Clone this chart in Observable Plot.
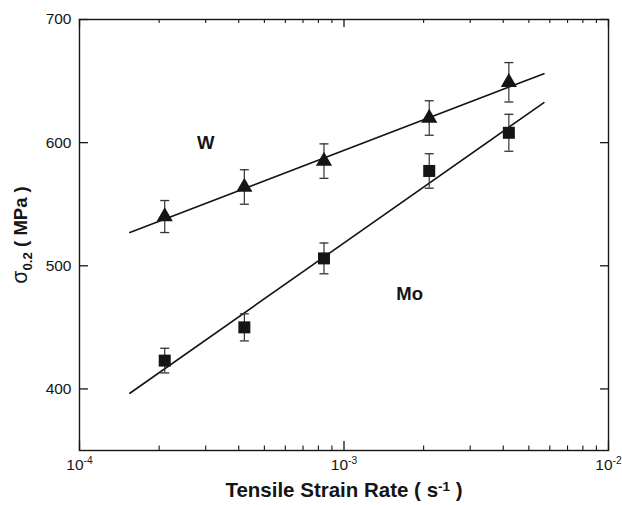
<!DOCTYPE html>
<html>
<head>
<meta charset="utf-8">
<script src="https://cdn.jsdelivr.net/npm/d3@7"></script>
<script src="https://cdn.jsdelivr.net/npm/@observablehq/plot@0.6"></script>
<style>
  html, body { margin: 0; padding: 0; background: #fff; }
  #chart { width: 622px; height: 505px; }
</style>
</head>
<body>
<div id="chart"></div>
<script>
// ---- data ----
const strainRate = [2.1e-4, 4.2e-4, 8.4e-4, 2.1e-3, 4.2e-3];
const wStress   = [540, 564, 585, 620, 649];
const wErr      = [13, 14, 14, 14, 16];
const moStress  = [423, 450, 506, 577, 608];
const moErr     = [10, 11, 12.5, 14, 15];
const wFitX  = [1.55e-4, 5.7e-3];
const wFitY  = [527, 656];
const moFitX = [1.55e-4, 5.7e-3];
const moFitY = [396.5, 632.5];
const seriesLabels = ["W", "Mo"];
const seriesLabelX = [3.0e-4, 1.77e-3];
const seriesLabelY = [600, 477];
const xMajor = [1e-4, 1e-3, 1e-2];
const xMajorLabels = ["10^{-4}", "10^{-3}", "10^{-2}"];
const xMinor = [2e-4,3e-4,4e-4,5e-4,6e-4,7e-4,8e-4,9e-4,2e-3,3e-3,4e-3,5e-3,6e-3,7e-3,8e-3,9e-3];
const yTicks = [400, 500, 600, 700];
const xTitle = "Tensile Strain Rate ( s^{-1} )";
const yTitle = "σ_{0.2} ( MPa )";

// ---- build tables ----
const wData  = strainRate.map((x, i) => ({x, y: wStress[i], lo: wStress[i] - wErr[i], hi: wStress[i] + wErr[i]}));
const moData = strainRate.map((x, i) => ({x, y: moStress[i], lo: moStress[i] - moErr[i], hi: moStress[i] + moErr[i]}));
const allData = wData.concat(moData);
const wFit  = wFitX.map((x, i) => ({x, y: wFitY[i]}));
const moFit = moFitX.map((x, i) => ({x, y: moFitY[i]}));
const labels = seriesLabels.map((t, i) => ({t, x: seriesLabelX[i], y: seriesLabelY[i]}));

const W = 622, H = 505, mL = 79, mR = 14, mT = 19, mB = 55;
const frameW = W - mL - mR, frameH = H - mT - mB;
const ink = "#151515";
const capSymbol = {draw(ctx) { ctx.moveTo(-4.5, 0); ctx.lineTo(4.5, 0); }};

const chart = Plot.plot({
  width: W, height: H,
  marginLeft: mL, marginRight: mR, marginTop: mT, marginBottom: mB,
  style: {fontFamily: "'Liberation Sans', Arial, sans-serif", background: "#fff", color: ink},
  x: {type: "log", domain: [1e-4, 1e-2], axis: null},
  y: {domain: [350, 700], axis: null},
  marks: [
    // ticks (inward)
    Plot.ruleX(xMinor, {x: d => d, insetTop: frameH - 4.5, stroke: ink, strokeWidth: 1.1}),
    Plot.ruleX(xMinor, {x: d => d, insetBottom: frameH - 4, stroke: ink, strokeWidth: 1.1}),
    Plot.ruleX(xMajor, {x: d => d, insetTop: frameH - 9, stroke: ink, strokeWidth: 1.3}),
    Plot.ruleX(xMajor, {x: d => d, insetBottom: frameH - 8, stroke: ink, strokeWidth: 1.3}),
    Plot.ruleY(yTicks, {y: d => d, insetRight: frameW - 9, stroke: ink, strokeWidth: 1.3}),
    Plot.ruleY(yTicks, {y: d => d, insetLeft: frameW - 8, stroke: ink, strokeWidth: 1.3}),
    Plot.frame({stroke: ink, strokeWidth: 1.4}),
    // tick labels
    Plot.text(yTicks, {y: d => d, frameAnchor: "left", dx: -8, textAnchor: "end", text: d => String(d), fontSize: 15.5, fill: ink}),
    Plot.text(xMajor, {x: d => d, frameAnchor: "bottom", dy: 19, text: (d, i) => xMajorLabels[i], fontSize: 15.5, fill: ink}),
    // axis titles
    Plot.text([xTitle], {frameAnchor: "bottom", dy: 46, textAnchor: "middle", text: d => d, fontSize: 20.5, fontWeight: "bold", fill: ink}),
    Plot.text([yTitle], {frameAnchor: "left", dx: -58, textAnchor: "middle", rotate: -90, text: d => d, fontSize: 18.5, fontWeight: "bold", fill: ink}),
    // fit lines
    Plot.line(wFit, {x: "x", y: "y", stroke: ink, strokeWidth: 1.6}),
    Plot.line(moFit, {x: "x", y: "y", stroke: ink, strokeWidth: 1.6}),
    // error bars
    Plot.ruleX(allData, {x: "x", y1: "lo", y2: "hi", stroke: "#333", strokeWidth: 1.2}),
    Plot.dot(allData, {x: "x", y: "hi", symbol: capSymbol, r: 3, stroke: "#333", strokeWidth: 1.3, fill: "none"}),
    Plot.dot(allData, {x: "x", y: "lo", symbol: capSymbol, r: 3, stroke: "#333", strokeWidth: 1.3, fill: "none"}),
    // markers
    Plot.dot(moData, {x: "x", y: "y", symbol: "square", r: 6.77, fill: ink, stroke: "none"}),
    Plot.dot(wData, {x: "x", y: "y", symbol: "triangle", r: 6.0, fill: ink, stroke: "none"}),
    // series labels
    Plot.text(labels, {x: "x", y: "y", text: "t", fontSize: 18.5, fontWeight: "bold", fill: ink})
  ]
});

// rich text: ^{..} superscript, _{..} subscript
function richify(svg) {
  svg.querySelectorAll("text").forEach(t => {
    const s = t.textContent;
    if (!/[\^_]\{/.test(s)) return;
    const parts = [];
    const re = /([\^_])\{([^}]*)\}/g;
    let last = 0, m;
    while ((m = re.exec(s))) {
      if (m.index > last) parts.push({txt: s.slice(last, m.index), k: ""});
      parts.push({txt: m[2], k: m[1]});
      last = re.lastIndex;
    }
    if (last < s.length) parts.push({txt: s.slice(last), k: ""});
    t.textContent = "";
    const ns = "http://www.w3.org/2000/svg";
    let shift = 0;
    parts.forEach(p => {
      const sp = document.createElementNS(ns, "tspan");
      let target = 0;
      if (p.k === "^") { target = -6; sp.setAttribute("font-size", "0.66em"); }
      if (p.k === "_") { target = 5; sp.setAttribute("font-size", "0.72em"); }
      const dy = target - shift;
      if (dy !== 0) sp.setAttribute("dy", dy);
      shift = target;
      if (p.txt.startsWith("σ")) {
        const sg = document.createElementNS(ns, "tspan");
        sg.setAttribute("font-weight", "normal");
        sg.setAttribute("font-size", "1.15em");
        sg.textContent = "σ";
        t.appendChild(sg);
        sp.textContent = p.txt.slice(1);
        if (sp.textContent) t.appendChild(sp);
        return;
      }
      sp.textContent = p.txt;
      t.appendChild(sp);
    });
  });
}
richify(chart);
document.getElementById("chart").appendChild(chart);
</script>
</body>
</html>
